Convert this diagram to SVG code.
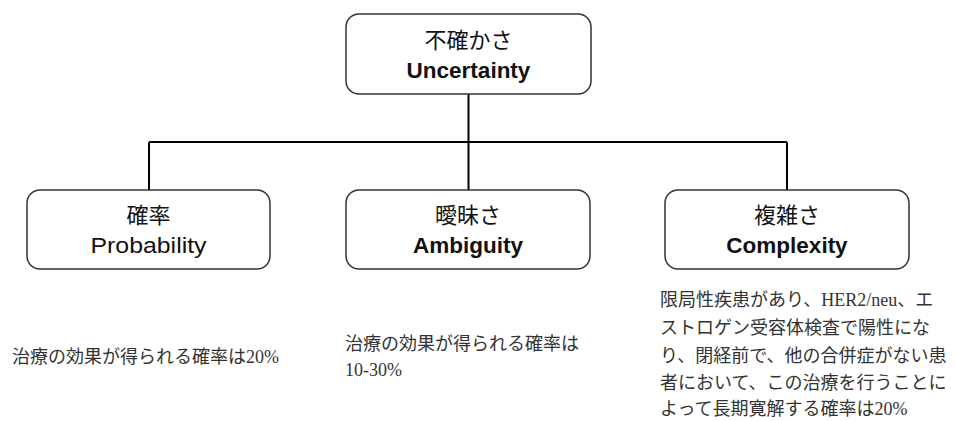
<svg xmlns="http://www.w3.org/2000/svg" width="957" height="421" viewBox="0 0 957 421">
  <style>
    .box { fill: #ffffff; stroke: #333333; stroke-width: 1.5; }
    .link { fill: none; stroke: #000000; stroke-width: 2; }
    .ja { font-family: "Liberation Sans", "Noto Sans CJK JP", sans-serif; font-size: 22px; fill: #111111; text-anchor: middle; }
    .en { font-family: "Liberation Sans", "Noto Sans CJK JP", sans-serif; font-size: 22.5px; fill: #111111; text-anchor: middle; font-weight: bold; }
    .en.light { font-weight: normal; }
    .note { font-family: "Liberation Serif", "Noto Sans CJK JP", serif; font-size: 18px; fill: #333333; }
  </style>
  <rect width="957" height="421" fill="#ffffff"/>

  <!-- connectors -->
  <g id="connectors">
    <path class="link" d="M468.5 94 V142"/>
    <path class="link" d="M149 142 H787"/>
    <path class="link" d="M149 142 V190"/>
    <path class="link" d="M468.5 142 V190"/>
    <path class="link" d="M787 142 V190"/>
  </g>

  <!-- root -->
  <g id="uncertainty">
    <rect class="box" x="346" y="14" width="245" height="80" rx="13"/>
    <text class="ja" x="468.5" y="48">不確かさ</text>
    <text class="en" x="468.5" y="78">Uncertainty</text>
  </g>

  <g id="probability">
    <rect class="box" x="27" y="190" width="243" height="79" rx="13"/>
    <text class="ja" x="148.5" y="223">確率</text>
    <text class="en light" x="148.5" y="253" textLength="116" lengthAdjust="spacingAndGlyphs">Probability</text>
  </g>

  <g id="ambiguity">
    <rect class="box" x="346" y="190" width="244" height="79" rx="13"/>
    <text class="ja" x="468" y="223">曖昧さ</text>
    <text class="en" x="468" y="253">Ambiguity</text>
  </g>

  <g id="complexity">
    <rect class="box" x="665" y="190" width="244" height="79" rx="13"/>
    <text class="ja" x="787" y="223">複雑さ</text>
    <text class="en" x="787" y="253">Complexity</text>
  </g>

  <!-- notes below each category -->
  <g id="note-probability">
    <text class="note" x="12" y="363">治療の効果が得られる確率は20%</text>
  </g>
  <g id="note-ambiguity">
    <text class="note" x="345" y="350">治療の効果が得られる確率は</text>
    <text class="note" x="345" y="376">10-30%</text>
  </g>
  <g id="note-complexity">
    <text class="note" x="660" y="306">限局性疾患があり、HER2/neu、エ</text>
    <text class="note" x="660" y="334">ストロゲン受容体検査で陽性にな</text>
    <text class="note" x="660" y="362">り、閉経前で、他の合併症がない患</text>
    <text class="note" x="660" y="389">者において、この治療を行うことに</text>
    <text class="note" x="660" y="415">よって長期寛解する確率は20%</text>
  </g>
</svg>
